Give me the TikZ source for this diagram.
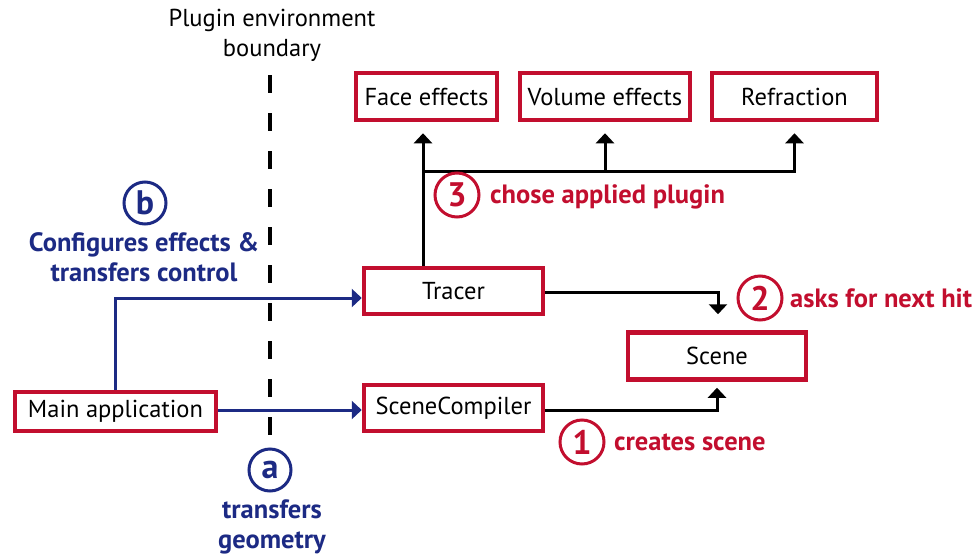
\documentclass[tikz,border=0pt]{standalone}
\usepackage{fontspec}
\setmainfont{PT Sans}
\usetikzlibrary{arrows.meta}
\definecolor{boxred}{HTML}{C20E2E}
\definecolor{navy}{HTML}{1C2A84}
\tikzset{
  x=1pt, y=-1pt,
  box/.style={draw=boxred, line width=4.5pt, inner sep=0pt, font=\fontsize{24.5}{28}\selectfont},
  arr/.style={line width=3pt, -{Triangle[width=18pt,length=10pt]}},
  bluearr/.style={arr, draw=navy, color=navy},
  numring/.style={circle, line width=3pt, minimum size=44pt, inner sep=0pt, font=\fontsize{34}{34}\bfseries\selectfont},
  redlabel/.style={text=boxred, font=\fontsize{26.5}{30}\bfseries\selectfont, anchor=west, inner sep=0pt},
  bluelabel/.style={text=navy, font=\fontsize{26.5}{30}\bfseries\selectfont, align=center, inner sep=0pt},
}
\begin{document}
\begin{tikzpicture}
\useasboundingbox (0,0) rectangle (978,555);

% plugin boundary
\node[font=\fontsize{24.5}{30}\selectfont, align=center, inner sep=0pt] (bnd) at (272,35) {Plugin environment\\boundary};
\coordinate (btop) at (270,75);
\coordinate (bbot) at (270,445);
\draw[line width=4.5pt, dash pattern=on 18pt off 20pt] (btop) -- (bbot);

% boxes
\node[box, minimum width=141pt, minimum height=47pt] (face)   at (426.5,96.5) {Face effects};
\node[box, minimum width=170pt, minimum height=47pt] (volume) at (605,96.5) {Volume effects};
\node[box, minimum width=165pt, minimum height=47pt] (refr)   at (794.5,96.5) {Refraction};
\node[box, minimum width=179pt, minimum height=46pt] (tracer) at (453.5,291) {Tracer};
\node[box, minimum width=179pt, minimum height=46pt] (comp)   at (453.5,408) {SceneCompiler};
\node[box, minimum width=178pt, minimum height=47pt] (scene)  at (717,356) {Scene};
\node[box, minimum width=201pt, minimum height=39pt] (main)   at (115.5,411.5) {Main application};

% tracer to plugins
\coordinate (br) at (423,171);
\draw[arr] (tracer.north -| br) -- ([yshift=-11pt]br |- face.south);
\draw[arr] (br) -| ([yshift=-11pt]volume.south);
\draw[arr] (br) -| ([yshift=-11pt]refr.south);

% tracer / compiler to scene
\draw[arr] ([yshift=-1pt]tracer.east) -| ([xshift=1pt,yshift=16pt]scene.north);
\draw[arr] ([yshift=-2pt]comp.east) -| ([yshift=-6pt]scene.south);

% main application connectors
\coordinate (mr) at (218,410);
\draw[bluearr] (main.north) |- ([yshift=-7pt]tracer.west);
\draw[bluearr] (mr) -- (mr -| comp.west);

% step markers
\node[numring, draw=boxred, text=boxred] (s3) at (457,195) {3};
\node[redlabel] (l3) at (490,197) {chose applied plugin};
\node[numring, draw=boxred, text=boxred] (s2) at (760,298) {2};
\node[redlabel] (l2) at (790,298) {asks for next hit};
\node[numring, draw=boxred, text=boxred] (s1) at (582,442) {1};
\node[redlabel] (l1) at (614,442) {creates scene};

\node[numring, draw=navy, text=navy, minimum size=42pt] (sb) at (145,203) {b};
\node[bluelabel] (lb) at (144,257) {Configures effects \&\\transfers control};
\node[numring, draw=navy, text=navy, minimum size=42pt] (sa) at (270,470) {a};
\node[bluelabel] (la) at (272,527) {transfers\\geometry};
\end{tikzpicture}
\end{document}
